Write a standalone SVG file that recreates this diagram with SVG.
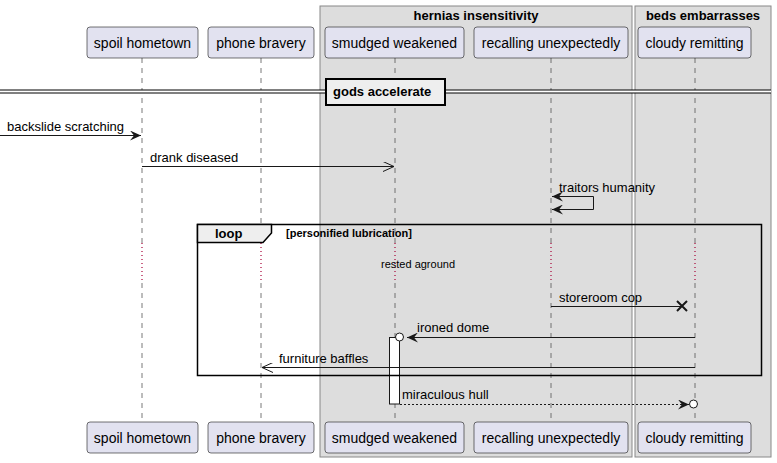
<svg xmlns="http://www.w3.org/2000/svg" width="777" height="463" viewBox="0 0 777 463">
<style>
text{font-family:"Liberation Sans",Arial,sans-serif;fill:#000}
.pbox{fill:#E2E2F0;stroke:#181818;stroke-width:0.6}
.ptxt{font-size:14px;text-anchor:middle}
.grp{fill:#DDDDDD;stroke:#888888;stroke-width:1}
.gtxt{font-size:13px;font-weight:bold;text-anchor:middle}
.life{stroke:#555;stroke-width:0.8;stroke-dasharray:5 5;fill:none}
.delay{stroke:#A80036;stroke-width:1.2;stroke-dasharray:1 3;fill:none}
.msg{stroke:#181818;stroke-width:1;fill:none}
.dash{stroke-dasharray:2 2}
.mtxt{font-size:13px}
.bold{font-weight:bold}
</style>
<defs>
<marker id="fill" viewBox="0 0 12 10" refX="11" refY="5" markerWidth="12" markerHeight="10" markerUnits="userSpaceOnUse" orient="auto">
<path d="M0,0 L11,5 L0,10 L4,5 Z" fill="#181818"/>
</marker>
<marker id="fillstart" viewBox="0 0 12 10" refX="11" refY="5" markerWidth="12" markerHeight="10" markerUnits="userSpaceOnUse" orient="auto-start-reverse">
<path d="M0,0 L11,5 L0,10 L4,5 Z" fill="#181818"/>
</marker>
<marker id="open" viewBox="0 0 12 10" refX="11" refY="5" markerWidth="12" markerHeight="10" markerUnits="userSpaceOnUse" orient="auto">
<path d="M0,0 L11,5 L0,10" fill="none" stroke="#181818" stroke-width="1"/>
</marker>
</defs>
<rect width="777" height="463" fill="#FFFFFF"/>
<g id="box-hernias">
<rect class="grp" x="320" y="6" width="312" height="451"/>
<text class="gtxt" x="476" y="19.5">hernias insensitivity</text>
</g>
<g id="box-beds">
<rect class="grp" x="635" y="6" width="136" height="451"/>
<text class="gtxt" x="703" y="19.5">beds embarrasses</text>
</g>
<g id="lifelines">
<path class="life" d="M142,58V243M142,283V422M261,58V243M261,283V422M395,58V243M395,283V422M551,58V243M551,283V422M695,58V243M695,283V422"/>
<path class="delay" d="M142,243V283M261,243V283M395,243V283M551,243V283M695,243V283"/>
</g>
<g id="activation">
<rect x="389.5" y="337.5" width="10" height="66.5" fill="#FFFFFF" stroke="#181818" stroke-width="1"/>
</g>
<g id="divider">
<rect x="0" y="90" width="771" height="3" fill="#FFFFFF"/>
<path d="M0,90H771M0,93H771" stroke="#000" stroke-width="1"/>
<rect x="326" y="79" width="119" height="26" fill="#EEEEEE" stroke="#000" stroke-width="2"/>
<text class="mtxt bold" x="333" y="96">gods accelerate</text>
</g>
<g id="loop">
<rect x="197.5" y="224.5" width="564" height="151" fill="none" stroke="#000" stroke-width="1.5"/>
<path d="M197.5,224.5H271.5V233L263,242.5H197.5Z" fill="#EEEEEE" stroke="#000" stroke-width="1.5"/>
<text class="mtxt bold" x="215" y="238">loop</text>
<text class="bold" x="286" y="237" font-size="11px">[personified lubrication]</text>
</g>
<g id="connectors">
<path class="msg" d="M0,135.5H141" marker-end="url(#fill)"/>
<text class="mtxt" x="7" y="131">backslide scratching</text>
<path class="msg" d="M142,166.5H394" marker-end="url(#open)"/>
<text class="mtxt" x="150" y="162">drank diseased</text>
<path class="msg" d="M552,196.5H593.5V209.5H552" marker-end="url(#fill)" marker-start="url(#fillstart)"/>
<text class="mtxt" x="559" y="192">traitors humanity</text>
<text x="418" y="268" font-size="11px" text-anchor="middle">rested aground</text>
<path class="msg" d="M551,306.5H683"/>
<path d="M677,301L687,311M687,301L677,311" stroke="#181818" stroke-width="2"/>
<text class="mtxt" x="559" y="302">storeroom cop</text>
<path class="msg" d="M695,337.5H407" marker-end="url(#fill)"/>
<circle cx="399.5" cy="337" r="4" fill="#FFFFFF" stroke="#181818" stroke-width="1"/>
<text class="mtxt" x="417" y="332">ironed dome</text>
<path class="msg" d="M695,367.5H262" marker-end="url(#open)"/>
<text class="mtxt" x="279" y="363">furniture baffles</text>
<path class="msg dash" d="M400,404.5H689" marker-end="url(#fill)"/>
<circle cx="693.5" cy="404" r="4" fill="#FFFFFF" stroke="#181818" stroke-width="1"/>
<text class="mtxt" x="402" y="399">miraculous hull</text>
</g>
<g id="p-spoil">
<rect class="pbox" x="87" y="27" width="111" height="31" rx="3"/>
<text class="ptxt" x="142.5" y="47.5">spoil hometown</text>
<rect class="pbox" x="87" y="422" width="111" height="31" rx="3"/>
<text class="ptxt" x="142.5" y="442.5">spoil hometown</text>
</g>
<g id="p-phone">
<rect class="pbox" x="208" y="27" width="106" height="31" rx="3"/>
<text class="ptxt" x="261" y="47.5">phone bravery</text>
<rect class="pbox" x="208" y="422" width="106" height="31" rx="3"/>
<text class="ptxt" x="261" y="442.5">phone bravery</text>
</g>
<g id="p-smudged">
<rect class="pbox" x="325" y="27" width="139" height="31" rx="3"/>
<text class="ptxt" x="394.5" y="47.5">smudged weakened</text>
<rect class="pbox" x="325" y="422" width="139" height="31" rx="3"/>
<text class="ptxt" x="394.5" y="442.5">smudged weakened</text>
</g>
<g id="p-recalling">
<rect class="pbox" x="474" y="27" width="154" height="31" rx="3"/>
<text class="ptxt" x="551" y="47.5">recalling unexpectedly</text>
<rect class="pbox" x="474" y="422" width="154" height="31" rx="3"/>
<text class="ptxt" x="551" y="442.5">recalling unexpectedly</text>
</g>
<g id="p-cloudy">
<rect class="pbox" x="638" y="27" width="113" height="31" rx="3"/>
<text class="ptxt" x="694.5" y="47.5">cloudy remitting</text>
<rect class="pbox" x="638" y="422" width="113" height="31" rx="3"/>
<text class="ptxt" x="694.5" y="442.5">cloudy remitting</text>
</g>
</svg>
